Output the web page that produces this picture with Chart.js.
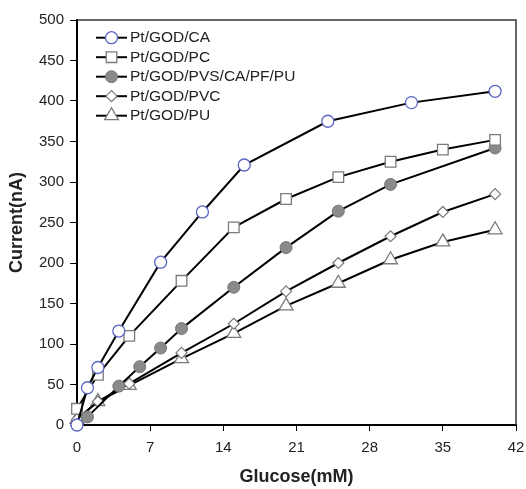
<!DOCTYPE html>
<html>
<head>
<meta charset="utf-8">
<script src="https://cdn.jsdelivr.net/npm/chart.js@4/dist/chart.umd.min.js"></script>
<style>
html,body{margin:0;padding:0;background:#fff;}
#wrap{width:526px;height:489px;position:relative;}
</style>
</head>
<body>
<div id="wrap"><canvas id="c" width="526" height="489"></canvas></div>
<script>
// ---- data ----
const xTicks = [0, 7, 14, 21, 28, 35, 42];
const yTicks = [0, 50, 100, 150, 200, 250, 300, 350, 400, 450, 500];
const seriesNames = ['Pt/GOD/CA', 'Pt/GOD/PC', 'Pt/GOD/PVS/CA/PF/PU', 'Pt/GOD/PVC', 'Pt/GOD/PU'];

const caX = [0, 1, 2, 4, 8, 12, 16, 24, 32, 40];
const caY = [0, 46, 71, 116, 201, 263, 321, 375, 398, 412];

const pcX = [0, 2, 5, 10, 15, 20, 25, 30, 35, 40];
const pcY = [20, 62, 110, 178, 244, 279, 306, 325, 340, 352];

const pvsX = [1, 4, 6, 8, 10, 15, 20, 25, 30, 40];
const pvsY = [10, 48, 72, 95, 119, 170, 219, 264, 297, 342];

const pvcX = [0, 2, 5, 10, 15, 20, 25, 30, 35, 40];
const pvcY = [7, 29, 51, 89, 125, 165, 200, 233, 263, 285];

const puX = [0, 2, 5, 10, 15, 20, 25, 30, 35, 40];
const puY = [7, 29, 49, 82, 113, 147, 175, 204, 226, 241];

function pts(xs, ys) { return xs.map((x, i) => ({x: x, y: ys[i]})); }

const styles = [
  {pointStyle: 'circle', pointRadius: 6, pointBackgroundColor: '#ffffff', pointBorderColor: '#5a66c4', pointBorderWidth: 1.3},
  {pointStyle: 'rect', pointRadius: 7.5, pointBackgroundColor: '#ffffff', pointBorderColor: '#7a7a7a', pointBorderWidth: 1.3},
  {pointStyle: 'circle', pointRadius: 6, pointBackgroundColor: '#8a8a8a', pointBorderColor: '#777777', pointBorderWidth: 1},
  {pointStyle: 'rectRot', pointRadius: 5.5, pointBackgroundColor: '#ffffff', pointBorderColor: '#7a7a7a', pointBorderWidth: 1.2},
  {pointStyle: 'triangle', pointRadius: 8, pointBackgroundColor: '#ffffff', pointBorderColor: '#7a7a7a', pointBorderWidth: 1.3}
];
const allData = [pts(caX, caY), pts(pcX, pcY), pts(pvsX, pvsY), pts(pvcX, pvcY), pts(puX, puY)];

const datasets = seriesNames.map((name, i) => Object.assign({
  label: name,
  data: allData[i],
  borderColor: '#000000',
  borderWidth: 2,
  tension: 0,
  clip: false,
  pointHoverRadius: styles[i].pointRadius
}, styles[i]));

// frame (top/right) and in-plot legend
const framePlugin = {
  id: 'frame',
  afterDraw(chart) {
    const {ctx, chartArea: a} = chart;
    ctx.save();
    ctx.strokeStyle = '#333333';
    ctx.lineWidth = 1.5;
    ctx.beginPath();
    ctx.moveTo(a.left, a.top);
    ctx.lineTo(a.right, a.top);
    ctx.lineTo(a.right, a.bottom);
    ctx.stroke();
    ctx.restore();
  }
};
const legendPlugin = {
  id: 'inlegend',
  afterDraw(chart) {
    const ctx = chart.ctx;
    const x0 = 96, x1 = 127, tx = 130;
    chart.data.datasets.forEach((ds, i) => {
      const y = 37.7 + 19.5 * i;
      ctx.save();
      ctx.strokeStyle = '#000';
      ctx.lineWidth = 2;
      ctx.beginPath();
      ctx.moveTo(x0, y);
      ctx.lineTo(x1, y);
      ctx.stroke();
      ctx.fillStyle = ds.pointBackgroundColor;
      ctx.strokeStyle = ds.pointBorderColor;
      ctx.lineWidth = ds.pointBorderWidth;
      Chart.helpers.drawPoint(ctx, {pointStyle: ds.pointStyle, radius: ds.pointRadius, borderWidth: ds.pointBorderWidth, rotation: 0}, (x0 + x1) / 2, y);
      ctx.fillStyle = '#222';
      ctx.font = '15.5px "Liberation Sans", Arial, sans-serif';
      ctx.textBaseline = 'middle';
      ctx.textAlign = 'left';
      ctx.fillText(ds.label, tx, y + 0.5);
      ctx.restore();
    });
  }
};

new Chart(document.getElementById('c'), {
  type: 'line',
  data: {datasets: datasets},
  options: {
    responsive: false,
    animation: false,
    devicePixelRatio: 1,
    layout: {padding: {top: 20, right: 0, left: 0, bottom: 0}},
    plugins: {legend: {display: false}, tooltip: {enabled: false}},
    scales: {
      x: {
        type: 'linear',
        min: 0, max: 42,
        afterBuildTicks(s) { s.ticks = xTicks.map(v => ({value: v})); },
        afterFit(s) { s.height = 64; s.paddingRight = 10; s.paddingLeft = 0; },
        border: {display: true, color: '#000', width: 2},
        grid: {display: true, drawOnChartArea: false, drawTicks: true, tickLength: 6, color: '#000', lineWidth: 1},
        ticks: {color: '#222', padding: 8, font: {family: '"Liberation Sans", Arial, sans-serif', size: 15}, maxRotation: 0},
        title: {display: true, text: 'Glucose(mM)', color: '#222', padding: {top: 0, bottom: 1}, font: {family: '"Liberation Sans", Arial, sans-serif', size: 18, weight: 'bold'}}
      },
      y: {
        type: 'linear',
        min: 0, max: 500,
        afterBuildTicks(s) { s.ticks = yTicks.map(v => ({value: v})); },
        afterFit(s) { s.width = 77; },
        border: {display: true, color: '#000', width: 2},
        grid: {display: true, drawOnChartArea: false, drawTicks: true, tickLength: 7, color: '#000', lineWidth: 1},
        ticks: {color: '#222', padding: 6, font: {family: '"Liberation Sans", Arial, sans-serif', size: 15}},
        title: {display: true, text: 'Current(nA)', color: '#222', padding: {top: 6, bottom: 0}, font: {family: '"Liberation Sans", Arial, sans-serif', size: 18, weight: 'bold'}}
      }
    }
  },
  plugins: [framePlugin, legendPlugin]
});
</script>
</body>
</html>
